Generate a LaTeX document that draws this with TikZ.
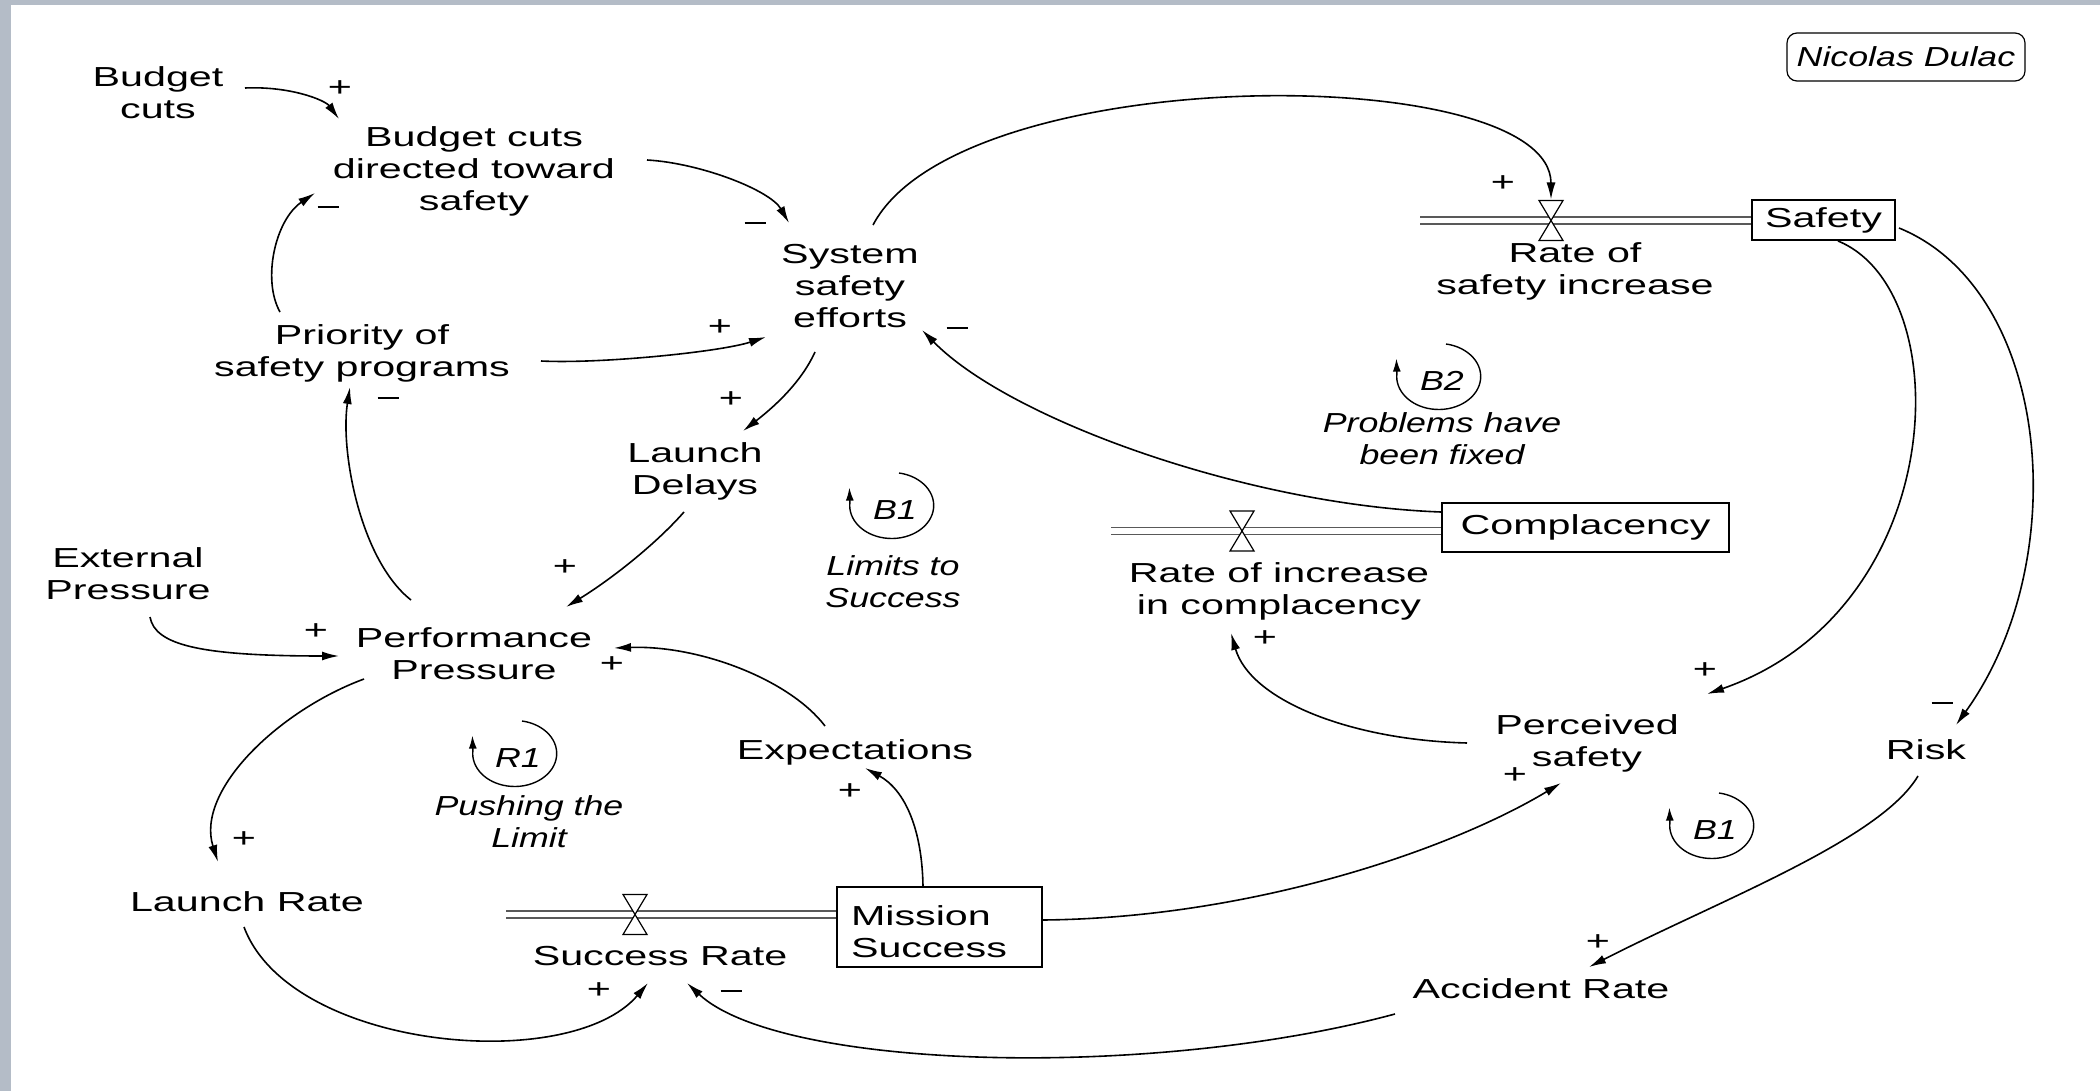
\documentclass[tikz,border=0pt]{standalone}
\usepackage{fontspec}
\setmainfont{Liberation Sans}[FakeStretch=1.5, ItalicFeatures={FakeStretch=1.3}]
\usetikzlibrary{calc}
\usetikzlibrary{arrows.meta}
\definecolor{framegray}{HTML}{B4BCC7}
\newcommand{\dfont}{\fontsize{13.75}{16}\selectfont}
\newcommand{\valve}[1]{\filldraw[valveshape] ($(#1)+(-12,-20)$) -- ($(#1)+(12,-20)$) -- (#1) -- cycle;
  \filldraw[valveshape] ($(#1)+(-12,20)$) -- ($(#1)+(12,20)$) -- (#1) -- cycle;}
\newcommand{\pipe}[2]{\draw[pipeline] ($(#1)+(0,-3.5)$) -- ($(#2)+(0,-3.5)$);
  \draw[pipeline] ($(#1)+(0,3.5)$) -- ($(#2)+(0,3.5)$);}
\newcommand{\signp}[3]{\node[sign] (#1) at (#2,#3) {+};}
\newcommand{\signm}[3]{\node[sign] (#1) at (#2,#3) {\rule{10.5pt}{0.7pt}};}
\newcommand{\loopmark}[1]{\draw[loopline] ($(#1)+(4,-37)$) arc[start angle=-80,end angle=185,x radius=42,y radius=33] -- ++(-0.5,-15);}

\begin{document}
\begin{tikzpicture}[x=0.5pt, y=-0.5pt, font=\dfont,
    var/.style={align=center, inner sep=0pt, anchor=north},
    note/.style={var, font=\dfont\itshape},
    loopname/.style={inner sep=0pt, font=\dfont\itshape},
    stock/.style={draw, line width=1pt, inner sep=0pt},
    sign/.style={inner sep=0pt},
    link/.style={line width=0.8pt, -{Latex[length=8.5pt,width=4.5pt]}},
    loopline/.style={line width=0.7pt, -{Latex[length=6.5pt,width=4pt]}},
    pipeline/.style={line width=0.9pt, black!65},
    valveshape/.style={fill=white, line width=0.6pt}]
        % frame
        \useasboundingbox (0,0) rectangle (2100,1091);
        \fill[framegray] (0,0) rectangle (2100,1091);
        \fill[white] (11,5) rectangle (2100,1091);
        \node[draw, rounded corners=5pt, line width=0.6pt, minimum width=119pt, minimum height=24pt, inner sep=0pt, font=\dfont\itshape] (author) at (1906,57) {Nicolas Dulac};
        % variables
        \node[var] (bcuts) at (158,66) {Budget\\cuts};
        \node[var] (bcd) at (474,126) {Budget cuts\\directed toward\\safety};
        \node[var] (sse) at (850,244) {System\\safety\\efforts};
        \node[var] (prio) at (362,324) {Priority of\\safety programs};
        \node[var] (ld) at (695,442) {Launch\\Delays};
        \node[var] (ext) at (128,547) {External\\Pressure};
        \node[var] (pp) at (474,627) {Performance\\Pressure};
        \node[var] (lr) at (247,891) {Launch Rate};
        \node[var] (expn) at (855,739) {Expectations};
        \node[var] (sr) at (660,946) {Success Rate};
        \node[var] (rsi) at (1575,242) {Rate of\\safety increase};
        \node[var] (ric) at (1279,562) {Rate of increase\\in complacency};
        \node[var] (ps) at (1587,714) {Perceived\\safety};
        \node[var] (risk) at (1926,739) {Risk};
        \node[var] (ar) at (1541,978) {Accident Rate};
        % stocks
        \node[stock, minimum width=71.5pt, minimum height=20pt] (safety) at (1823.5,220) {Safety};
        \node[stock, minimum width=143.5pt, minimum height=24.5pt] (compl) at (1585.5,527.5) {Complacency};
        \node[stock, minimum height=40pt, text width=88.5pt, inner xsep=7pt, align=left] (ms) at (939.5,927) {\rule{0pt}{15pt}Mission\\Success};
        % flows
        \coordinate (s1) at (1420,220.5);
        \coordinate (v1) at (1551,220.5);
        \coordinate (k1) at (safety.west |- v1);
        \coordinate (s2) at (1111,531);
        \coordinate (v2) at (1242,531);
        \coordinate (k2) at (compl.west |- v2);
        \coordinate (s3) at (506,914.5);
        \coordinate (v3) at (635,914.5);
        \coordinate (k3) at (ms.west |- v3);
        \pipe{s1}{k1}
        \pipe{s2}{k2}
        \pipe{s3}{k3}
        \valve{v1}
        \valve{v2}
        \valve{v3}
        % loops
        \node[loopname] (b2) at (1442,381) {B2};
        \node[note] (fixed) at (1442,412) {Problems have\\been fixed};
        \node[loopname] (b1) at (895,510) {B1};
        \node[note] (limits) at (893,555) {Limits to\\Success};
        \node[loopname] (r1) at (518,758) {R1};
        \node[note] (pushing) at (529,795) {Pushing the\\Limit};
        \node[loopname] (b1r) at (1715,830) {B1};
        \loopmark{b2}
        \loopmark{b1}
        \loopmark{r1}
        \loopmark{b1r}
        % links
        \draw[link] ($(bcuts.north)+(87,22)$) .. controls +(45,-2) and +(-14,-19) .. ($(bcd.north)+(-135,-7)$);
        \draw[link] ($(bcd.north)+(173,34)$) .. controls +(53,3) and +(-19,-33) .. ($(sse.north)+(-61,-21)$);
        \draw[link] ($(prio.north)+(-82,-12)$) .. controls +(-18,-32) and +(-40,27) .. ($(bcd.north)+(-159,67)$);
        \draw[link] ($(prio.north)+(179,37)$) .. controls +(59,3) and +(-46,15) .. ($(sse.north)+(-84,93)$);
        \draw[link] ($(sse.north)+(23,-19)$) .. controls +(87,-165) and +(0,-139) .. ($(v1)+(0,-21)$);
        \draw[link] ($(sse.north)+(-35,108)$) .. controls +(-15,33) and +(27,-21) .. ($(ld.north)+(48,-11)$);
        \draw[link] ($(ld.north)+(-11,70)$) .. controls +(-29,33) and +(44,-27) .. ($(pp.north)+(92,-20)$);
        \draw[link] ($(pp.north)+(-63,-27)$) .. controls +(-51,-40) and +(-10,63) .. ($(prio.north)+(-12,63)$);
        \draw[link] ($(ext.north)+(22,70)$) .. controls +(5,28) and +(-139,0) .. ($(pp.north)+(-135,29)$);
        \draw[link] ($(expn.north)+(-30,-13)$) .. controls +(-35,-46) and +(86,-3) .. ($(pp.north)+(140,21)$);
        \draw[link] ($(ms.north)+(-16.5,0)$) .. controls +(-1,-57) and +(40,22) .. ($(expn.north)+(10,29)$);
        \draw[link] ($(pp.north)+(-110,52)$) .. controls +(-84,31) and +(-23,-72) .. ($(lr.north)+(-29,-29)$);
        \draw[link] ($(lr.north)+(-3,36)$) .. controls +(46,123) and +(-78,92) .. ($(sr.north)+(-12,37)$);
        \draw[link] ($(ar.north)+(-146,36)$) .. controls +(-245,66) and +(93,87) .. ($(sr.north)+(27,37)$);
        \draw[link] ($(ms.east)+(0,-7)$) .. controls +(208,-2) and +(-111,67) .. ($(ps.north)+(-26,69)$);
        \draw[link] ($(ps.north)+(-120,29)$) .. controls +(-117,-3) and +(19,67) .. ($(ric.north)+(-48,71)$);
        \draw[link] ($(safety.south)+(14.5,0)$) .. controls +(122,50) and +(243,-84) .. ($(ps.north)+(120,-20)$);
        \draw[link] ($(safety.east)+(3,8)$) .. controls +(152,62) and +(119,-165) .. ($(risk.north)+(30,-14)$);
        \draw[link] ($(risk.north)+(-8,37)$) .. controls +(-38,64) and +(131,-67) .. ($(ar.north)+(48,-11)$);
        \draw[link] ($(compl.west)+(0,-15.5)$) .. controls +(-192,-7) and +(88,90) .. ($(sse.north)+(72,86)$);
        % polarities
        \signp{p1}{340}{89}
        \signm{m1}{328}{207}
        \signm{m2}{755}{223}
        \signp{p2}{720}{328}
        \signm{m3}{957}{328}
        \signp{p3}{731}{400}
        \signm{m4}{388}{398}
        \signp{p4}{565}{568}
        \signp{p5}{316}{632}
        \signp{p6}{612}{665}
        \signp{p7}{850}{792}
        \signp{p8}{244}{840}
        \signp{p9}{599}{991}
        \signm{m5}{731}{991}
        \signp{p10}{1503}{184}
        \signp{p11}{1265}{639}
        \signp{p12}{1705}{671}
        \signm{m6}{1942}{703}
        \signp{p13}{1515}{776}
        \signp{p14}{1598}{943}
    \end{tikzpicture}
\end{document}
